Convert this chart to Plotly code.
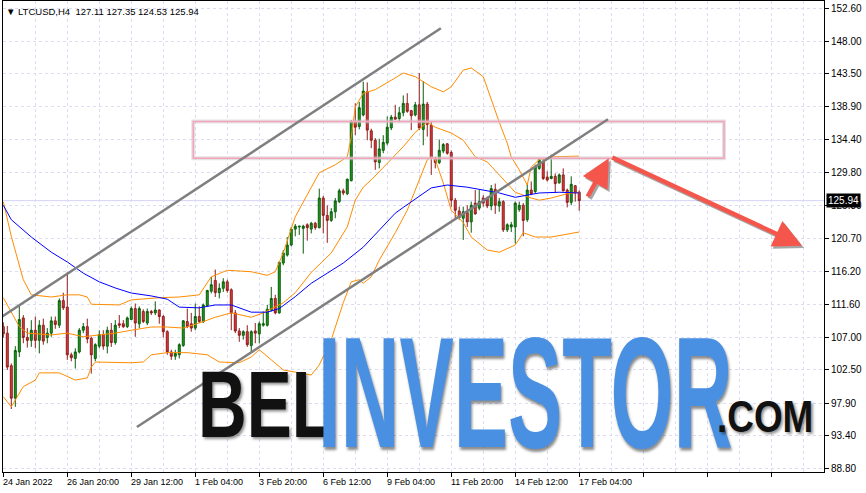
import pandas as pd
import plotly.graph_objects as go

# LTCUSD H4 candles (bar 0 = 24 Jan 2022 04:00)
opens = [108.5, 107.6, 103.1, 98.6, 105.0, 109.7, 107.0, 106.6, 108.0, 106.6,
         108.7, 107.0, 107.6, 109.3, 108.7, 112.1, 111.2, 104.6, 104.1, 105.0,
         108.0, 108.5, 106.9, 104.1, 105.8, 107.4, 105.8, 108.0, 106.3, 108.9,
         108.9, 108.5, 109.5, 111.0, 108.9, 110.6, 109.0, 110.6, 110.4, 110.8,
         109.9, 107.8, 105.0, 104.4, 104.6, 105.9, 109.2, 108.9, 108.3, 109.9,
         109.2, 111.4, 113.4, 114.9, 113.2, 113.8, 114.7, 113.6, 110.4, 107.9,
         107.3, 107.8, 105.9, 107.9, 107.5, 108.7, 108.7, 110.8, 112.4, 110.4,
         117.3, 118.4, 119.8, 122.0, 122.3, 122.1, 122.6, 122.0, 122.8, 122.2,
         126.3, 123.9, 123.2, 124.4, 125.8, 127.3, 126.9, 128.7, 136.9, 136.2,
         137.8, 141.0, 135.6, 134.3, 131.2, 132.9, 133.9, 136.0, 137.5, 137.3,
         138.1, 139.4, 138.4, 137.8, 139.2, 135.8, 139.3, 136.4, 131.8, 131.2,
         132.8, 133.8, 132.6, 126.0, 124.5, 123.5, 124.3, 123.0, 125.6, 124.9,
         126.3, 126.3, 125.2, 127.5, 125.2, 125.8, 121.9, 122.3, 122.3, 124.7,
         125.3, 123.3, 127.4, 127.2, 130.4, 131.3, 129.2, 129.0, 129.3, 128.4,
         129.5, 127.4, 125.7, 128.0, 127.11]
highs = [109.1, 108.6, 103.4, 105.8, 111.5, 110.1, 108.3, 109.4, 109.9, 109.4,
         109.6, 108.3, 109.9, 109.9, 112.4, 113.2, 116.0, 104.9, 105.5, 108.3,
         109.0, 109.6, 107.1, 106.2, 108.0, 108.0, 108.5, 109.0, 109.4, 110.1,
         109.4, 109.9, 111.3, 111.7, 111.3, 110.9, 111.0, 110.8, 112.0, 110.9,
         110.1, 108.0, 105.3, 105.3, 106.2, 109.4, 111.0, 110.4, 111.7, 111.3,
         111.7, 113.6, 115.4, 116.4, 114.5, 115.2, 115.0, 113.8, 110.8, 108.3,
         108.0, 108.7, 108.0, 109.0, 109.2, 110.6, 111.5, 114.0, 112.9, 117.5,
         119.1, 120.9, 122.3, 122.7, 122.4, 122.6, 122.8, 123.0, 123.0, 127.6,
         126.6, 125.3, 124.9, 126.3, 127.6, 127.6, 129.0, 137.1, 139.4, 139.6,
         142.4, 142.3, 135.9, 134.6, 134.5, 135.0, 137.6, 137.8, 139.2, 138.9,
         140.5, 140.8, 138.5, 139.6, 143.6, 142.5, 139.6, 136.9, 132.0, 134.4,
         133.9, 133.9, 132.9, 126.3, 125.1, 125.1, 125.3, 125.8, 127.4, 127.4,
         126.7, 126.5, 128.1, 128.3, 126.3, 126.0, 122.8, 123.0, 125.8, 125.8,
         125.6, 128.3, 128.6, 130.9, 131.8, 131.8, 130.0, 132.3, 129.7, 129.7,
         130.4, 127.6, 129.3, 128.1, 127.35]
lows = [107.0, 102.5, 97.1, 97.4, 104.3, 106.2, 105.6, 105.7, 105.5, 104.8,
        106.0, 106.2, 107.1, 108.2, 108.3, 110.8, 103.9, 103.7, 102.7, 104.8,
        107.6, 106.2, 102.0, 103.7, 105.5, 105.3, 104.8, 105.7, 106.0, 108.3,
        108.3, 108.3, 109.4, 107.1, 108.3, 109.0, 108.7, 110.1, 110.1, 108.9,
        107.0, 104.6, 103.9, 103.9, 104.1, 105.7, 108.3, 107.8, 108.0, 109.0,
        109.0, 111.3, 113.1, 112.6, 112.4, 113.3, 113.2, 108.0, 107.6, 106.4,
        106.7, 105.7, 105.0, 106.2, 106.2, 108.5, 108.5, 110.6, 110.2, 110.3,
        117.0, 118.2, 119.6, 121.0, 121.2, 118.6, 120.4, 121.4, 121.9, 122.1,
        121.4, 120.1, 123.0, 123.5, 125.6, 126.7, 126.7, 128.6, 135.0, 135.8,
        137.6, 134.3, 133.2, 130.2, 130.4, 132.5, 133.6, 135.7, 137.1, 136.8,
        137.6, 138.1, 135.7, 137.6, 135.7, 133.6, 134.8, 129.5, 130.4, 131.0,
        132.5, 132.3, 125.1, 123.5, 123.3, 120.5, 122.3, 121.5, 124.0, 124.6,
        125.1, 124.9, 124.6, 124.1, 124.4, 121.6, 121.6, 121.6, 120.0, 124.4,
        121.0, 123.0, 126.7, 126.9, 130.2, 128.8, 128.6, 128.9, 127.0, 128.3,
        127.2, 125.0, 125.3, 125.8, 124.53]
closes = [107.5, 102.9, 98.6, 105.2, 109.5, 107.0, 106.6, 108.0, 106.6, 108.7,
          106.5, 107.6, 109.3, 108.8, 112.1, 111.1, 104.6, 104.2, 105.0, 108.0,
          108.5, 106.8, 104.6, 106.0, 107.4, 105.8, 108.0, 106.3, 108.7, 108.7,
          108.5, 109.7, 111.0, 109.0, 111.0, 109.2, 110.6, 110.4, 110.8, 109.9,
          107.8, 105.0, 104.4, 104.8, 106.0, 109.3, 108.5, 108.3, 109.9, 109.2,
          111.5, 113.5, 114.3, 113.2, 113.8, 114.7, 113.5, 110.4, 107.9, 107.3,
          107.8, 106.0, 107.8, 107.6, 108.9, 108.9, 110.9, 112.4, 110.4, 117.4,
          118.7, 119.8, 122.0, 122.4, 122.4, 122.4, 122.2, 122.8, 122.2, 126.3,
          123.9, 123.2, 124.4, 125.9, 127.3, 127.0, 128.9, 136.9, 136.1, 138.8,
          141.1, 135.7, 134.3, 131.3, 133.1, 134.0, 136.1, 137.5, 137.2, 138.1,
          139.4, 138.3, 137.7, 139.2, 136.0, 139.3, 136.5, 131.8, 131.2, 132.9,
          133.7, 132.5, 126.0, 124.6, 123.6, 124.4, 123.0, 125.3, 124.1, 125.8,
          125.6, 125.2, 127.6, 125.3, 125.8, 121.9, 122.6, 122.6, 125.6, 125.3,
          123.2, 127.4, 126.9, 130.6, 131.6, 129.0, 128.8, 129.3, 128.3, 129.5,
          127.3, 125.7, 128.2, 127.0, 125.94]

# Bollinger bands and moving average, sampled along the curves (bar index -> price)
bb_upper_bars = [0, 2, 5, 7, 12, 16, 19, 21, 22, 29, 32, 39, 44, 49, 52, 56, 62, 66, 68, 70,
                 73, 79, 83, 86, 87, 88, 90, 93, 97, 100, 103, 107, 110, 112, 115, 117, 120,
                 122, 124, 126, 127, 129, 131, 132, 134, 137, 144]
bb_upper = [125.8, 121.0, 115.0, 112.9, 112.6, 112.9, 112.9, 112.6, 111.6, 111.5, 112.2,
            112.5, 112.6, 112.9, 115.4, 116.3, 116.1, 115.6, 116.1, 118.7, 123.7, 129.8,
            130.9, 132.0, 134.7, 138.9, 140.8, 141.3, 142.6, 143.6, 143.1, 141.7, 141.0,
            141.7, 144.0, 144.3, 143.1, 139.9, 136.8, 133.9, 132.0, 130.2, 128.1, 130.6,
            131.6, 132.0, 132.1]
bb_mid_bars = [0, 2, 4, 6, 12, 16, 20, 24, 28, 32, 37, 41, 45, 49, 53, 57, 62, 65, 70, 73,
               77, 82, 86, 88, 90, 92, 97, 100, 103, 106, 108, 112, 115, 118, 121, 126, 128,
               132, 134, 137, 141, 144]
bb_mid = [112.5, 110.4, 108.5, 107.6, 107.35, 107.6, 107.1, 107.35, 107.6, 108.0, 108.45,
          108.45, 108.3, 109.0, 109.8, 110.4, 109.8, 110.4, 111.8, 113.2, 116.0, 118.7,
          122.3, 126.0, 127.8, 128.8, 131.6, 133.4, 135.4, 136.8, 136.1, 135.3, 134.3,
          132.0, 131.3, 128.4, 127.1, 126.3, 126.0, 126.3, 126.9, 127.1]
bb_lower_bars = [0, 2, 5, 8, 9, 14, 18, 21, 22, 23, 32, 35, 37, 41, 46, 51, 54, 59, 62, 64,
                 67, 70, 73, 77, 79, 82, 85, 87, 89, 90, 92, 94, 98, 101, 103, 106, 107, 108,
                 110, 112, 115, 117, 121, 124, 128, 130, 133, 137, 144]
bb_lower = [98.8, 97.4, 100.2, 101.1, 102.1, 102.1, 101.1, 101.4, 102.9, 103.6, 103.5,
            103.6, 104.6, 104.9, 104.9, 104.6, 103.6, 103.5, 104.3, 105.3, 103.9, 102.5,
            102.2, 101.8, 103.2, 106.7, 111.8, 114.7, 115.0, 114.5, 115.4, 117.7, 121.5,
            124.6, 127.4, 131.6, 132.0, 131.6, 128.4, 124.6, 122.9, 120.9, 119.1, 118.8,
            119.8, 121.5, 120.9, 120.9, 121.6]
ma_bars = [0, 2, 7, 12, 16, 20, 24, 28, 32, 37, 41, 44, 49, 53, 57, 59, 62, 66, 69, 73, 77,
           81, 85, 90, 94, 98, 100, 104, 107, 111, 116, 124, 128, 134, 139, 144]
ma = [125.3, 123.3, 120.9, 118.8, 117.45, 115.9, 114.7, 113.85, 113.15, 112.75, 112.3,
      111.2, 111.1, 111.5, 111.5, 111.1, 110.5, 110.5, 111.0, 112.65, 114.5, 115.9, 117.3,
      119.5, 121.9, 124.2, 125.0, 126.5, 127.7, 128.1, 127.8, 127.0, 126.4, 127.0, 127.1,
      127.0]

# drawn objects (bar index, price)
upper_channel_bars = [-0.8, 109.4]
upper_channel = [109.7, 149.8]
lower_channel_bars = [33.4, 151.2]
lower_channel = [94.6, 137.2]
zone_bars = [47.5, 180.2]
zone = [131.8, 136.9]
arrow_up_bars = [145.9, 151.4]
arrow_up = [126.3, 131.8]
arrow_down_bars = [151.9, 199.7]
arrow_down = [132.0, 119.7]

last_price = 125.94
y_ticks = [88.80, 93.40, 97.90, 102.50, 107.00, 111.60, 116.20, 120.70, 125.30,
           129.80, 134.40, 138.90, 143.50, 148.00, 152.60]
x_tick_bars = [0, 16, 32, 48, 64, 80, 96, 112, 128, 144]
x_tick_labels = ["24 Jan 2022", "26 Jan 20:00", "29 Jan 12:00", "1 Feb 04:00",
                 "3 Feb 20:00", "6 Feb 12:00", "9 Feb 04:00", "11 Feb 20:00",
                 "14 Feb 12:00", "17 Feb 04:00"]

t0 = pd.Timestamp("2022-01-24 04:00")
times = pd.date_range(t0, periods=len(opens), freq="4h")


def bar_time(b):
    return (t0 + pd.Timedelta(hours=4 * b)).strftime("%Y-%m-%d %H:%M:%S")


FONT = "Liberation Sans, Arial, sans-serif"
GRID = "#dcdcf2"

fig = go.Figure()
fig.add_trace(go.Candlestick(
    x=times, open=opens, high=highs, low=lows, close=closes,
    increasing=dict(fillcolor="#1f9d1f", line=dict(color="#0b5c0b", width=1)),
    decreasing=dict(fillcolor="#e23b3b", line=dict(color="#8e1d1d", width=1)),
    whiskerwidth=0, hoverinfo="skip",
))
for bars, vals, col in [(bb_upper_bars, bb_upper, "#ff8c00"),
                        (bb_mid_bars, bb_mid, "#ff8c00"),
                        (bb_lower_bars, bb_lower, "#ff8c00"),
                        (ma_bars, ma, "#0000ff")]:
    fig.add_trace(go.Scatter(
        x=[times[b] for b in bars], y=vals, mode="lines",
        line=dict(color=col, width=1), hoverinfo="skip",
    ))

shapes = [
    # current price line
    dict(type="line", xref="paper", x0=0, x1=1, yref="y", y0=last_price, y1=last_price,
         line=dict(color="#d4d4f6", width=1), layer="below"),
    # resistance zone
    dict(type="rect", xref="x", yref="y",
         x0=bar_time(zone_bars[0]), x1=bar_time(zone_bars[1]), y0=zone[0], y1=zone[1],
         line=dict(color="rgba(200,200,200,0.5)", width=4)),
    dict(type="rect", xref="x", yref="y",
         x0=bar_time(zone_bars[0]), x1=bar_time(zone_bars[1]), y0=zone[0], y1=zone[1],
         line=dict(color="#f4a3bb", width=1.5)),
]
for bars, vals in [(upper_channel_bars, upper_channel), (lower_channel_bars, lower_channel)]:
    shapes.append(dict(type="line", xref="x", yref="y",
                       x0=bar_time(bars[0]), x1=bar_time(bars[1]), y0=vals[0], y1=vals[1],
                       line=dict(color="#7f7f7f", width=2.5)))

annotations = []
# forecast arrows (shadow + arrow)
for bars, vals in [(arrow_up_bars, arrow_up), (arrow_down_bars, arrow_down)]:
    for dx, dy, col in [(0.5, -0.3, "rgba(60,60,60,0.45)"), (0, 0, "#f4564b")]:
        annotations.append(dict(
            x=bar_time(bars[1] + dx), y=vals[1] + dy, ax=bar_time(bars[0] + dx), ay=vals[0] + dy,
            xref="x", yref="y", axref="x", ayref="y", text="", showarrow=True,
            arrowhead=2, arrowsize=1.25, arrowwidth=4.5, arrowcolor=col,
        ))

# x tick labels, left-aligned at their ticks like the terminal
for b, lab in zip(x_tick_bars, x_tick_labels):
    annotations.append(dict(x=bar_time(b), y=0, xref="x", yref="paper", text=lab,
                            showarrow=False, xanchor="left", yanchor="top", xshift=-2, yshift=-3,
                            font=dict(family=FONT, size=9, color="black")))

# last price tag
annotations.append(dict(x=1, y=last_price, xref="paper", yref="y", text=f"{last_price:.2f}",
                        showarrow=False, xanchor="left", xshift=2, bgcolor="black",
                        borderpad=1, font=dict(family=FONT, size=10, color="white")))

# header
annotations.append(dict(x=0, y=1, xref="paper", yref="paper",
                        text="\u25bc LTCUSD,H4\u00a0\u00a0127.11 127.35 124.53 125.94",
                        showarrow=False, xanchor="left", yanchor="top", xshift=1, yshift=-3,
                        font=dict(family=FONT, size=9.5, color="black")))

# watermark (squeezed horizontally in the page script below)
WM = "Liberation Sans, Arial, sans-serif"
shadow = "2px 2px 3px rgba(0,0,0,0.45)"
annotations += [
    dict(x=0.235, y=0.0276, xref="paper", yref="paper", text="<b>BEL</b>", showarrow=False,
         xanchor="left", yanchor="bottom",
         font=dict(family=WM, size=95, color="#111111", shadow=shadow)),
    dict(x=0.3813, y=-0.022, xref="paper", yref="paper", text="<b>INVESTOR</b>", showarrow=False,
         xanchor="left", yanchor="bottom",
         font=dict(family=WM, size=158, color="#4a90e2", shadow=shadow)),
    dict(x=0.867, y=0.0586, xref="paper", yref="paper", text="<b>.COM</b>", showarrow=False,
         xanchor="left", yanchor="bottom",
         font=dict(family=WM, size=45, color="#111111", shadow=shadow)),
]

fig.update_layout(
    width=866, height=493,
    margin=dict(l=3, r=42, t=1, b=21),
    paper_bgcolor="white", plot_bgcolor="white",
    showlegend=False,
    shapes=shapes, annotations=annotations,
    xaxis=dict(
        type="date", rangeslider=dict(visible=False),
        range=[bar_time(-0.075), bar_time(205.2)],
        tick0=bar_time(0), dtick=4 * 16 * 3600 * 1000,
        ticks="outside", ticklen=4, tickcolor="black", showticklabels=False,
        showgrid=True, gridcolor=GRID, griddash="3px,3px", gridwidth=1,
        minor=dict(tick0=bar_time(0), dtick=4 * 8 * 3600 * 1000, showgrid=True,
                   gridcolor=GRID, griddash="3px,3px", ticks=""),
        showline=True, linecolor="black", linewidth=1, mirror=True, zeroline=False,
    ),
    yaxis=dict(
        side="right", range=[88.38, 153.57],
        tickvals=y_ticks, ticktext=[f"{v:.2f}" for v in y_ticks],
        ticks="outside", ticklen=4, tickcolor="black",
        tickfont=dict(family=FONT, size=10, color="black"),
        showgrid=True, gridcolor=GRID, griddash="3px,3px", gridwidth=1,
        showline=True, linecolor="black", linewidth=1, mirror=True, zeroline=False,
    ),
)

# page tweaks: no body margin, condensed watermark lettering
post = """
document.body.style.margin = '0';
var gd = document.getElementById('{plot_id}');
function squeeze() {
  var k = {'<b>BEL</b>': 0.71, '<b>INVESTOR</b>': 0.515, '<b>.COM</b>': 0.82};
  gd.querySelectorAll('text.annotation-text').forEach(function (t) {
    var s = t.getAttribute('data-unformatted');
    if (k[s]) {
      t.style.transformBox = 'fill-box';
      t.style.transformOrigin = '0% 100%';
      t.style.transform = 'scaleX(' + k[s] + ')';
    }
  });
}
squeeze();
gd.on('plotly_afterplot', squeeze);
"""

fig.write_html("out.html", post_script=post, config={"displayModeBar": False})
